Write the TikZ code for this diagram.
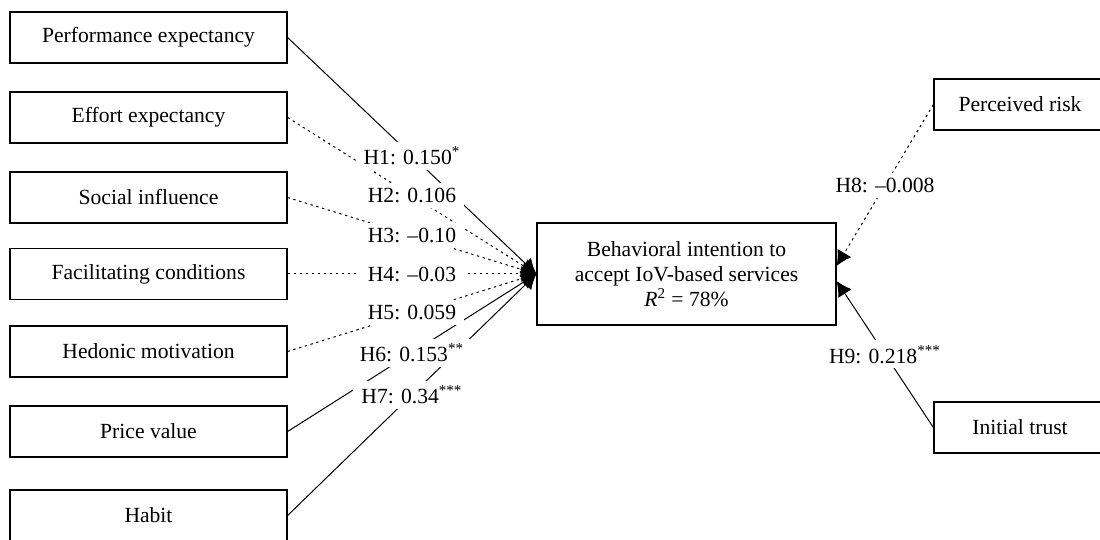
\documentclass[tikz,border=0pt]{standalone}
\usepackage{fontspec}
\setmainfont{Liberation Serif}
\usetikzlibrary{arrows.meta}

\begin{document}
\begin{tikzpicture}[x=0.5pt, y=-0.5pt, every node/.style={font=\fontsize{10.8}{12.5}\selectfont},
		var/.style={draw, line width=0.6pt, minimum width=138.5pt, minimum height=25.5pt, inner sep=0pt},
		path/.style={line width=0.5pt, -{Latex[length=7.5pt,width=8pt]}},
		ns/.style={path, dash pattern=on 1.2pt off 1.8pt},
		hyp/.style={fill=white, inner xsep=4pt, inner ysep=2.5pt}]
		
		\useasboundingbox (0,0) rectangle (1100,540);
		
		% Exogenous constructs
		\node[var] (pe) at (148.5,37.5) {Performance expectancy};
		\node[var] (ee) at (148.5,117.5) {Effort expectancy};
		\node[var] (si) at (148.5,197.5) {Social influence};
		\node[var] (fc) at (148.5,274) {Facilitating conditions};
		\node[var] (hm) at (148.5,351.5) {Hedonic motivation};
		\node[var] (pv) at (148.5,431.5) {Price value};
		\node[var] (hb) at (148.5,515.5) {Habit};
		
		% Behavioral intention
		\node[var, minimum width=149.5pt, minimum height=51pt, align=center] (bi) at (686.5,274)
			{Behavioral intention to\\accept IoV-based services\\{\itshape R}\textsuperscript{2} = 78\%};
		
		% Perceived risk and trust
		\node[var, minimum width=86pt] (pr) at (1020,104.5) {Perceived risk};
		\node[var, minimum width=86pt] (it) at (1020,427.5) {Initial trust};
		
		% Paths
		\draw[path] (pe.east) -- coordinate[midway] (m1) (bi.west);
		\draw[ns] (ee.east) -- coordinate[midway] (m2) (bi.west);
		\draw[ns] (si.east) -- coordinate[midway] (m3) (bi.west);
		\draw[ns] (fc.east) -- coordinate[midway] (m4) (bi.west);
		\draw[ns] (hm.east) -- coordinate[midway] (m5) (bi.west);
		\draw[path] (pv.east) -- coordinate[midway] (m6) (bi.west);
		\draw[path] (hb.east) -- coordinate[midway] (m7) (bi.west);
		\draw[ns] (pr.west) -- coordinate[midway] (m8) ([yshift=4pt]bi.east);
		\draw[path] (it.west) -- coordinate[midway] (m9) ([yshift=-3.5pt]bi.east);
		
		% Path coefficients
		\node[hyp] at (m1) {H1: 0.150\textsuperscript{*}};
		\node[hyp] at (m2) {H2: 0.106};
		\node[hyp] at (m3) {H3: --0.10};
		\node[hyp] at (m4) {H4: --0.03};
		\node[hyp] at (m5) {H5: 0.059};
		\node[hyp] at (m6) {H6: 0.153\textsuperscript{**}};
		\node[hyp] at (m7) {H7: 0.34\textsuperscript{***}};
		\node[hyp] at (m8) {H8: --0.008};
		\node[hyp] at (m9) {H9: 0.218\textsuperscript{***}};
		
	\end{tikzpicture}
\end{document}
